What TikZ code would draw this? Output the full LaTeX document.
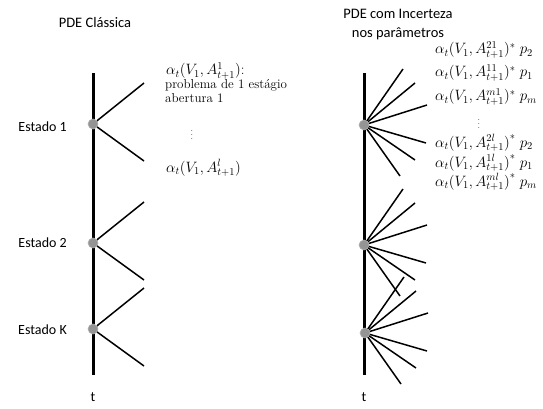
\RequirePackage{fix-cm}
\documentclass[tikz,border=0pt]{standalone}
\usepackage{fontspec}
\newfontfamily\calibri{Carlito}
\begin{document}
\begin{tikzpicture}[x=1pt,y=-1pt,
  axis/.style={line width=3pt},
  branch/.style={line width=1.5pt},
  state/.style={circle,fill=black!42,draw=black!30,line width=0.6pt,minimum size=10pt,inner sep=0pt},
  lbl/.style={font=\calibri\fontsize{14}{16}\selectfont,inner sep=0pt},
  ttl/.style={font=\calibri\fontsize{14.5}{17}\selectfont,inner sep=0pt},
  mth/.style={font=\fontsize{15}{17}\selectfont,inner sep=0pt,anchor=west},
  txt/.style={font=\fontsize{13}{15}\selectfont,inner sep=0pt,anchor=west},
  vdt/.style={font=\fontsize{9}{10}\selectfont,inner sep=0pt}]
\useasboundingbox (0,0) rectangle (543,408);
% titles
\node[ttl] (tl) at (95,23) {PDE Clássica};
\node[ttl,align=center] (tr) at (398,25) {PDE com Incerteza\\[2pt]nos parâmetros};
% left tree
\coordinate (la) at (93,73);
\coordinate (lb) at (93,375);
\coordinate (l1) at (93,124);
\coordinate (l2) at (93,243);
\coordinate (l3) at (93,329);
\draw[axis] (la) -- (lb);
\foreach \s in {l1,l2,l3}{
  \draw[branch] (\s) -- ++(51,-41);
  \draw[branch] (\s) -- ++(51,37);
}
\node[state] (L1) at (l1) {};
\node[state] (L2) at (l2) {};
\node[state] (L3) at (l3) {};
\node[lbl,anchor=east] (e1) at (67,127) {Estado 1};
\node[lbl,anchor=east] (e2) at (67,243) {Estado 2};
\node[lbl,anchor=east] (e3) at (67,330) {Estado K};
\node[lbl] (t1) at (93,397) {t};
% right tree
\coordinate (ra) at (364,73);
\coordinate (rb) at (364,375);
\coordinate (r1) at (364,125);
\coordinate (r2) at (364,245);
\coordinate (r3) at (365,333);
\draw[axis] (ra) -- (rb);
\foreach \s in {r1,r2,r3}{
  \foreach \dx/\dy in {39/-56,51/-42,63/-20,62/18,51/35,36/51}{
    \draw[branch] (\s) -- ++(\dx,\dy);
  }
}
\node[state] (R1) at (r1) {};
\node[state] (R2) at (r2) {};
\node[state] (R3) at (r3) {};
\node[lbl] (t2) at (364,397) {t};
% left labels
\node[mth] (f1) at (166,71) {$\alpha_t(V_1,A^1_{t+1})$:};
\node[txt] (f2) at (165,85) {problema de 1 estágio};
\node[txt] (f3) at (165,98) {abertura 1};
\node[vdt] (f4) at (192,132) {$\vdots$};
\node[mth] (f5) at (166,168) {$\alpha_t\bigl(V_1,A^l_{t+1}\bigr)$};
% right labels
\node[mth] (g1) at (435,50) {$\alpha_t(V_1,A^{21}_{t+1})^*\;p_2$};
\node[mth] (g2) at (435,73) {$\alpha_t(V_1,A^{11}_{t+1})^*\;p_1$};
\node[mth] (g3) at (435,97) {$\alpha_t(V_1,A^{m1}_{t+1})^*\;p_m$};
\node[vdt] (g4) at (479,121) {$\vdots$};
\node[mth] (g5) at (435,143) {$\alpha_t\bigl(V_1,A^{2l}_{t+1}\bigr)^*\;p_2$};
\node[mth] (g6) at (435,163) {$\alpha_t\bigl(V_1,A^{1l}_{t+1}\bigr)^*\;p_1$};
\node[mth] (g7) at (435,182) {$\alpha_t\bigl(V_1,A^{ml}_{t+1}\bigr)^*\;p_m$};
\end{tikzpicture}
\end{document}
